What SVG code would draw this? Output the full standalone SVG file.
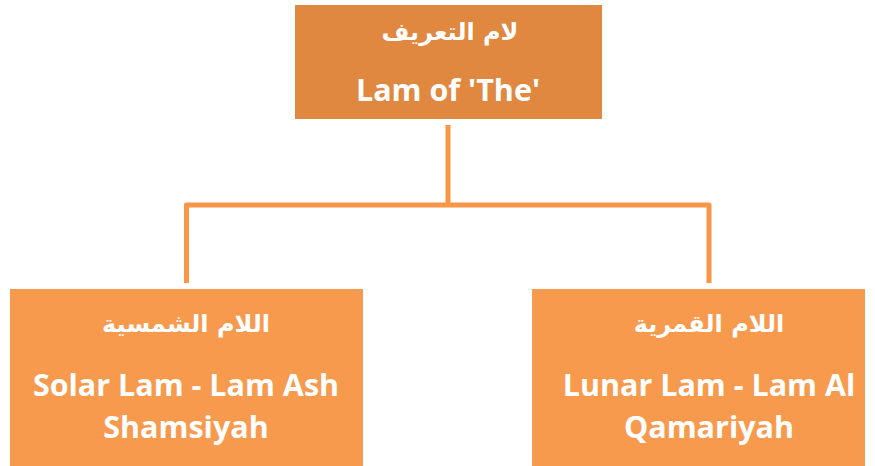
<svg xmlns="http://www.w3.org/2000/svg" width="875" height="466" viewBox="0 0 875 466">
  <style>
    .root { fill: #E0883F; }
    .child { fill: #F79A4D; }
    .link { fill: none; stroke: #F79646; stroke-width: 5; stroke-linejoin: round; }
    .ar { font-family: "DejaVu Sans", "Noto Sans", sans-serif; font-weight: bold; font-size: 24px; fill: #FFFFFF; text-anchor: middle; }
    .en { font-family: "Open Sans", "Liberation Sans", sans-serif; font-weight: bold; font-size: 30.5px; fill: #FFFFFF; text-anchor: middle; }
  </style>
  <rect width="875" height="466" fill="#FFFFFF"/>

  <g id="connectors">
    <path class="link" d="M448 125 V205"/>
    <path class="link" d="M186.5 283 V205 H709 V283"/>
  </g>

  <g id="lam-of-the">
    <rect class="root" x="295" y="5" width="307" height="114"/>
    <text class="ar" x="450" y="40" direction="rtl">لام التعريف</text>
    <text class="en" x="448" y="101">Lam of 'The'</text>
  </g>

  <g id="solar-lam">
    <rect class="child" x="10" y="289" width="353" height="180"/>
    <text class="ar" x="186" y="332" direction="rtl">اللام الشمسية</text>
    <text class="en" x="186" y="396">Solar Lam - Lam Ash</text>
    <text class="en" x="186" y="438">Shamsiyah</text>
  </g>

  <g id="lunar-lam">
    <rect class="child" x="532" y="289" width="333" height="180"/>
    <text class="ar" x="709" y="332" direction="rtl">اللام القمرية</text>
    <text class="en" x="709" y="396">Lunar Lam - Lam Al</text>
    <text class="en" x="709" y="438">Qamariyah</text>
  </g>
</svg>
